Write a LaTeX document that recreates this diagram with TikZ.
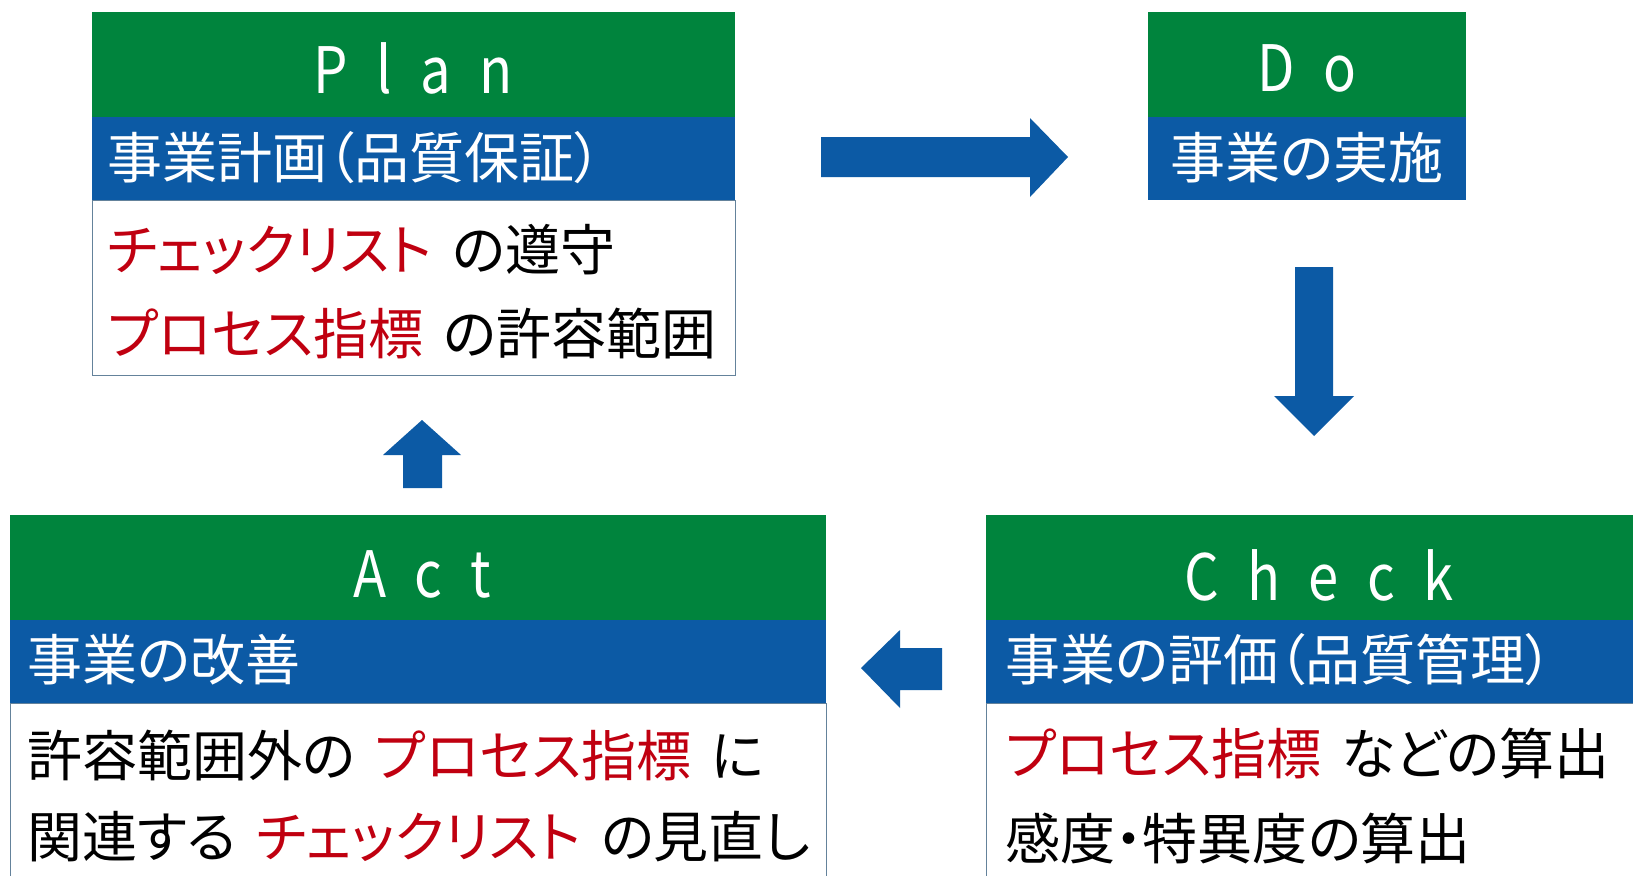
\documentclass[tikz,border=0pt]{standalone}
\usepackage{graphicx}
\usepackage{fontspec}
\setmainfont{Noto Sans CJK JP}[RawFeature=+palt]
\definecolor{pgreen}{RGB}{0,132,61}
\definecolor{pblue}{RGB}{12,90,165}
\definecolor{pred}{RGB}{192,0,16}
\definecolor{pline}{RGB}{100,130,155}
\newcommand\red[1]{\textcolor{pred}{#1}}
\newcommand\gp{\hspace{0.52em}}
\newcommand\wsp{\hspace{0.36em}}
\newcommand\ttl[1]{\scalebox{0.85}[1]{#1}}
\tikzset{
  greenbox/.style={fill=pgreen, anchor=north west, inner sep=0, minimum height=52.5pt},
  bluebox/.style={fill=pblue, anchor=north west, inner sep=0, minimum height=41.5pt},
  bodybox/.style={draw=pline, line width=0.6pt, fill=white, anchor=north west, inner sep=0},
  title/.style={text=white, font=\fontsize{32}{36}\selectfont, inner sep=0},
  sub/.style={text=white, font=\fontsize{27.5}{32}\selectfont, inner sep=0},
  body/.style={text=black, font=\fontsize{27.5}{32}\selectfont, inner sep=0, anchor=west},
  blockarrow/.style={fill=pblue}
}
\begin{document}
\begin{tikzpicture}[x=0.5pt,y=-0.5pt]
\useasboundingbox (0,0) rectangle (1633,875);
\fill[white] (0,0) rectangle (1633,875);

% Plan
\node[bodybox, minimum width=321.5pt, minimum height=87.5pt] (planW) at (91.5,200) {};
\node[greenbox, minimum width=321.5pt] (planG) at (91.5,12) {};
\node[bluebox, minimum width=321.5pt] (planB) at (91.5,117) {};
\node[title] (planT) at (413,68) {\ttl{P\gp l\gp a\gp n}};
\node[sub, anchor=west] (planS) at (107,158) {事業計画（品質保証）};
\node[body] (planL1) at (107,250) {\red{チェックリスト}\wsp の遵守};
\node[body] (planL2) at (107,334) {\red{プロセス指標}\wsp の許容範囲};

% Do
\node[greenbox, minimum width=159pt] (doG) at (1148,12) {};
\node[bluebox, minimum width=159pt] (doB) at (1148,117) {};
\node[title] (doT) at (1307,68) {\ttl{D\gp o}};
\node[sub] (doS) at (1307,158) {事業の実施};

% Act
\node[bodybox, minimum width=408pt, minimum height=95pt] (actW) at (10,703) {};
\node[greenbox, minimum width=408pt] (actG) at (10,515) {};
\node[bluebox, minimum width=408pt] (actB) at (10,620) {};
\node[title] (actT) at (422,574) {\ttl{A\gp c\gp t}};
\node[sub, anchor=west] (actS) at (27,660) {事業の改善};
\node[body] (actL1) at (27,755) {許容範囲外の\wsp\red{プロセス指標}\wsp に};
\node[body] (actL2) at (27,837) {関連する\wsp\red{チェックリスト}\wsp の見直し};

% Check
\node[bodybox, minimum width=332pt, minimum height=95pt] (chkW) at (986,703) {};
\node[greenbox, minimum width=332pt] (chkG) at (986,515) {};
\node[bluebox, minimum width=332pt] (chkB) at (986,620) {};
\node[title] (chkT) at (1319,575) {\ttl{C\gp h\gp e\gp c\gp k}};
\node[sub, anchor=west] (chkS) at (1005,660) {事業の評価（品質管理）};
\node[body] (chkL1) at (1005,753) {\red{プロセス指標}\wsp などの算出};
\node[body] (chkL2) at (1005,838) {感度・特異度の算出};

% block arrows
\fill[blockarrow] (821,137) -- (1030,137) -- (1030,118) -- (1068,157) -- (1030,197) -- (1030,177) -- (821,177) -- cycle;
\fill[blockarrow] (1295,267) -- (1333,267) -- (1333,396) -- (1354,396) -- (1314,436) -- (1274,396) -- (1295,396) -- cycle;
\fill[blockarrow] (942,648) -- (900,648) -- (900,630) -- (861,668) -- (900,708) -- (900,690) -- (942,690) -- cycle;
\fill[blockarrow] (403,488) -- (403,455) -- (383,455) -- (422,420) -- (461,455) -- (442,455) -- (442,488) -- cycle;
\end{tikzpicture}
\end{document}
